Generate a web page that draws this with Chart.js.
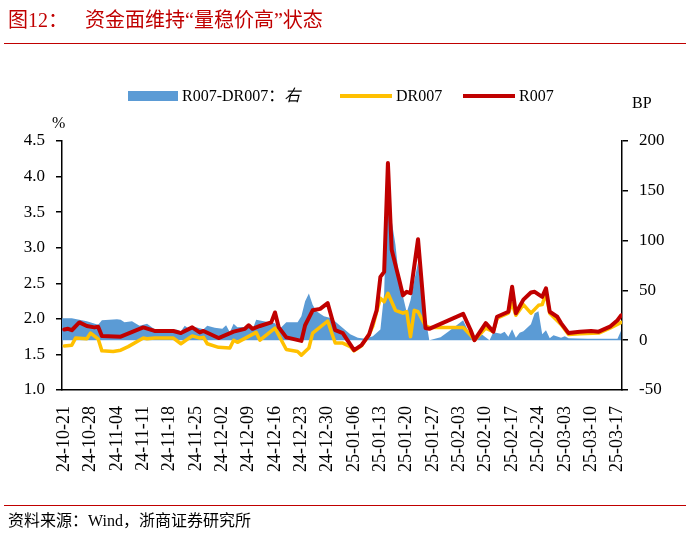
<!DOCTYPE html>
<html>
<head>
<meta charset="utf-8">
<script src="https://cdn.jsdelivr.net/npm/chart.js@4/dist/chart.umd.min.js"></script>
<style>
  body { margin: 0; background: #fff; }
  #wrap { position: relative; width: 688px; height: 538px; font-family: "Liberation Serif", "Noto Sans CJK SC", serif; }
  #wrap canvas { position: absolute; left: 0; top: 0; }
  .abs { position: absolute; white-space: nowrap; line-height: 1; }
  .title { color: #C00000; font-size: 20px; top: 10px; }
  .rule { position: absolute; left: 4px; width: 682px; height: 1px; background: #C00000; }
  .lg { font-size: 16px; color: #000; top: 88px; }
  .sw { position: absolute; }
</style>
</head>
<body>
<div id="wrap">
  <canvas id="chart" width="688" height="538"></canvas>
  <div class="abs title" style="left:8px">图12：</div>
  <div class="abs title" style="left:85px">资金面维持“量稳价高”状态</div>
  <div class="rule" style="top:43px"></div>

  <div class="sw" style="left:128px;top:91px;width:50px;height:10px;background:#5B9BD5"></div>
  <div class="abs lg" style="left:182px">R007-DR007：<span style="font-style:italic">右</span></div>
  <div class="sw" style="left:340px;top:94px;width:52px;height:4px;background:#FFC000"></div>
  <div class="abs lg" style="left:396px">DR007</div>
  <div class="sw" style="left:463px;top:94px;width:52px;height:4px;background:#C00000"></div>
  <div class="abs lg" style="left:519px">R007</div>

  <div class="abs" style="left:52px;top:115px;font-size:16px">%</div>
  <div class="abs" style="left:632px;top:95px;font-size:16px">BP</div>

  <div class="rule" style="top:505px"></div>
  <div class="abs" style="left:8px;top:513px;font-size:16px;color:#000">资料来源：Wind，浙商证券研究所</div>
</div>
<script>
// x axis labels (weekly)
const tickLabels = ['24-10-21','24-10-28','24-11-04','24-11-11','24-11-18','24-11-25','24-12-02','24-12-09',
  '24-12-16','24-12-23','24-12-30','25-01-06','25-01-13','25-01-20','25-01-27','25-02-03','25-02-10',
  '25-02-17','25-02-24','25-03-03','25-03-10','25-03-17'];

// R007 (%)
const r007Dates = ['24-10-21','24-10-22','24-10-23','24-10-25','24-10-27','24-10-29','24-10-30','24-10-31',
  '24-11-05','24-11-11','24-11-14','24-11-19','24-11-21','24-11-24','24-11-26','24-11-27','24-12-01',
  '24-12-05','24-12-08','24-12-09','24-12-10','24-12-12','24-12-15','24-12-16','24-12-17','24-12-19',
  '24-12-23','24-12-24','24-12-26','24-12-28','24-12-30','25-01-01','25-01-03','25-01-06','25-01-08',
  '25-01-10','25-01-11','25-01-12','25-01-13','25-01-14','25-01-15','25-01-16','25-01-18','25-01-19',
  '25-01-20','25-01-21','25-01-23','25-01-25','25-01-26','25-02-04','25-02-06','25-02-07','25-02-10',
  '25-02-12','25-02-13','25-02-16','25-02-17','25-02-18','25-02-20','25-02-22','25-02-23','25-02-25',
  '25-02-26','25-02-27','25-03-01','25-03-02','25-03-04','25-03-07','25-03-10','25-03-12','25-03-15',
  '25-03-17','25-03-18'];
const r007 = [1.85,1.86,1.84,1.95,1.90,1.88,1.89,1.76,
  1.75,1.88,1.83,1.83,1.80,1.88,1.81,1.83,1.73,
  1.82,1.86,1.91,1.86,1.90,1.95,2.09,1.88,1.74,
  1.69,1.91,2.12,2.14,2.22,1.84,1.80,1.56,1.63,
  1.78,1.95,2.12,2.59,2.66,4.19,2.97,2.55,2.33,
  2.38,2.36,3.12,1.87,1.86,2.07,1.84,1.70,1.94,
  1.82,2.03,2.10,2.45,2.08,2.27,2.37,2.38,2.31,
  2.43,2.10,2.03,1.94,1.80,1.82,1.83,1.82,1.89,
  1.98,2.05];

// DR007 (%)
const dr007Dates = ['24-10-21','24-10-23','24-10-24','24-10-27','24-10-28','24-10-30','24-10-31','24-11-03',
  '24-11-05','24-11-07','24-11-11','24-11-12','24-11-14','24-11-19','24-11-21','24-11-24','24-11-26',
  '24-11-27','24-11-28','24-12-01','24-12-04','24-12-05','24-12-06','24-12-11','24-12-12','24-12-16',
  '24-12-19','24-12-22','24-12-23','24-12-25','24-12-26','24-12-30','25-01-01','25-01-03','25-01-05',
  '25-01-06','25-01-08','25-01-10','25-01-11','25-01-12','25-01-13','25-01-14','25-01-15','25-01-17',
  '25-01-19','25-01-20','25-01-21','25-01-22','25-01-23','25-01-25','25-01-26','25-02-04','25-02-06',
  '25-02-07','25-02-10','25-02-12','25-02-13','25-02-16','25-02-17','25-02-18','25-02-20','25-02-22',
  '25-02-24','25-02-25','25-02-26','25-02-27','25-03-02','25-03-04','25-03-07','25-03-12','25-03-15',
  '25-03-18'];
const dr007 = [1.62,1.63,1.73,1.72,1.80,1.72,1.55,1.54,
  1.56,1.61,1.73,1.72,1.73,1.73,1.65,1.76,1.73,
  1.74,1.65,1.60,1.59,1.70,1.67,1.81,1.70,1.87,
  1.57,1.54,1.49,1.59,1.80,1.97,1.66,1.66,1.61,
  1.55,1.62,1.78,1.90,2.10,2.29,2.24,2.36,2.12,
  2.08,2.10,1.75,2.12,2.10,1.90,1.88,1.88,1.77,
  1.70,1.87,1.82,2.01,2.08,2.22,2.05,2.20,2.08,
  2.19,2.20,2.36,2.08,1.92,1.78,1.79,1.80,1.87,
  1.95];

// R007-DR007 (BP, right axis)
const spreadDates = ['24-10-20','24-10-23','24-10-25','24-10-27','24-10-30','24-10-31','24-11-04','24-11-05',
  '24-11-06','24-11-08','24-11-10','24-11-12','24-11-14','24-11-17','24-11-20','24-11-21','24-11-22',
  '24-11-23','24-11-25','24-11-27','24-11-28','24-11-30','24-12-02','24-12-03','24-12-04','24-12-05',
  '24-12-06','24-12-09','24-12-10','24-12-11','24-12-13','24-12-16','24-12-17','24-12-19','24-12-22',
  '24-12-23','24-12-24','24-12-25','24-12-26','24-12-27','24-12-29','24-12-31','25-01-02','25-01-05',
  '25-01-07','25-01-09','25-01-11','25-01-13','25-01-14','25-01-15','25-01-16','25-01-17','25-01-18',
  '25-01-20','25-01-21','25-01-22','25-01-23','25-01-24','25-01-26','25-01-29','25-01-31','25-02-04',
  '25-02-06','25-02-07','25-02-09','25-02-11','25-02-12','25-02-14','25-02-15','25-02-16','25-02-17',
  '25-02-18','25-02-19','25-02-20','25-02-22','25-02-23','25-02-24','25-02-25','25-02-26','25-02-27',
  '25-02-28','25-03-02','25-03-03','25-03-04','25-03-09','25-03-14','25-03-17','25-03-18'];
const spread = [22,22,20.5,19,15.5,20,21,20.5,
  18,19,14.5,16.5,11,10.5,10.5,9,14.5,
  12,13,11,14.5,12.5,11.5,15,8,16.5,
  13,13.5,10.5,20.5,19,17,10.5,18,18,
  24,39,47,35.5,29,24,22,15.5,6,
  2.4,1.4,4,10.7,47,178,120,96,60,
  28,40,60,78,45,0,3,8.5,20,
  3.4,0,5.7,0,8,6.5,8.5,3.5,11,
  2.5,7.5,9,16,27,29,6,10,2,
  5,2.4,4,2,1.4,1.4,1.4,10];

const dayOf = s => (Date.UTC(2000 + +s.slice(0, 2), +s.slice(3, 5) - 1, +s.slice(6, 8)) - Date.UTC(2024, 9, 21)) / 864e5;
const pts = (dates, vals) => dates.map((d, i) => ({ x: dayOf(d), y: vals[i] }));

const serif = '"Liberation Serif", "Times New Roman", serif';
const axisTicks = { size: 17, family: serif };

new Chart(document.getElementById('chart'), {
  type: 'line',
  data: {
    datasets: [
      {
        label: 'R007',
        data: pts(r007Dates, r007),
        borderColor: '#C00000',
        borderWidth: 4,
        borderJoinStyle: 'round',
        borderCapStyle: 'round',
        pointRadius: 0,
        fill: false,
        yAxisID: 'y',
        order: 1
      },
      {
        label: 'DR007',
        data: pts(dr007Dates, dr007),
        borderColor: '#FFC000',
        borderWidth: 3.5,
        borderJoinStyle: 'round',
        borderCapStyle: 'round',
        pointRadius: 0,
        fill: false,
        yAxisID: 'y',
        order: 2
      },
      {
        label: 'R007-DR007：右',
        data: pts(spreadDates, spread),
        backgroundColor: '#5B9BD5',
        borderWidth: 0,
        pointRadius: 0,
        fill: 'origin',
        yAxisID: 'y1',
        order: 3
      }
    ]
  },
  options: {
    responsive: false,
    animation: false,
    events: [],
    layout: { padding: { top: 141, left: 0, right: 0, bottom: 0 } },
    plugins: { legend: { display: false }, tooltip: { enabled: false } },
    scales: {
      x: {
        type: 'linear',
        min: -0.6,
        max: 148.2,
        afterBuildTicks: axis => { axis.ticks = tickLabels.map((_, i) => ({ value: i * 7 })); },
        afterFit: axis => { axis.height = 148; },
        grid: { display: false },
        border: { display: true, color: '#000', width: 1.5 },
        ticks: {
          autoSkip: false,
          minRotation: 90,
          maxRotation: 90,
          padding: 8,
          color: '#000',
          font: { size: 18, family: serif },
          callback: (v, i) => tickLabels[i]
        }
      },
      y: {
        position: 'left',
        min: 1,
        max: 4.5,
        afterFit: axis => { axis.width = 62; },
        grid: { drawOnChartArea: false, color: '#000', lineWidth: 1.5, tickLength: 6 },
        border: { color: '#000', width: 1.5 },
        ticks: { stepSize: 0.5, padding: 11, color: '#000', font: axisTicks, callback: v => v.toFixed(1) }
      },
      y1: {
        position: 'right',
        min: -50,
        max: 200,
        afterFit: axis => { axis.width = 66; },
        grid: { drawOnChartArea: false, color: '#000', lineWidth: 1.5, tickLength: 6 },
        border: { color: '#000', width: 1.5 },
        ticks: { stepSize: 50, padding: 11, color: '#000', font: axisTicks }
      }
    }
  }
});
</script>
</body>
</html>
